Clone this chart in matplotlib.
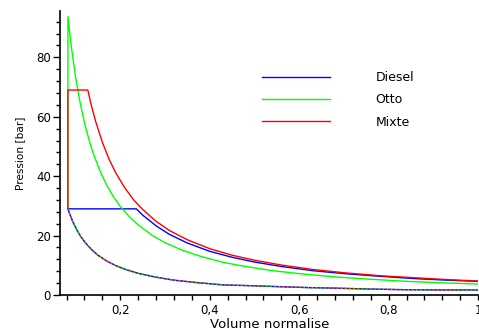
import matplotlib.pyplot as plt
from matplotlib.ticker import MultipleLocator, FuncFormatter

plt.rcParams['font.family'] = ['DejaVu Sans']

# compression commune aux trois cycles (volume normalise, pression en bar)
v_compression = [0.083, 0.088, 0.095, 0.103, 0.112, 0.122, 0.135, 0.15, 0.17, 0.19, 0.21, 0.24,
                 0.28, 0.32, 0.37, 0.43, 0.50, 0.556, 0.62, 0.683, 0.76, 0.832, 0.92, 1.0]
p_compression = [29.0, 26.9, 24.3, 21.9, 19.6, 17.6, 15.4, 13.4, 11.4, 9.9, 8.7, 7.3,
                 6.0, 5.0, 4.2, 3.4, 3.1, 2.8, 2.5, 2.3, 2.0, 1.8, 1.7, 1.7]

# Diesel : combustion isobare puis detente
v_diesel = [0.083, 0.236, 0.25, 0.28, 0.31, 0.35, 0.40, 0.45, 0.50, 0.56, 0.63, 0.70, 0.78, 0.86, 0.93, 1.0]
p_diesel = [29.0, 29.0, 26.9, 23.3, 20.4, 17.5, 14.7, 12.7, 11.1, 9.6, 8.2, 7.2, 6.3, 5.5, 5.0, 4.6]

# Otto : combustion isochore puis detente
v_otto = [0.083, 0.083, 0.09, 0.10, 0.11, 0.12, 0.13, 0.14, 0.155, 0.17, 0.185, 0.20, 0.22, 0.24, 0.27,
          0.30, 0.34, 0.38, 0.43, 0.48, 0.54, 0.60, 0.68, 0.76, 0.84, 0.92, 1.0]
p_otto = [29.0, 93.7, 84.3, 73.5, 64.9, 58.0, 52.3, 47.5, 41.6, 36.9, 33.0, 29.8, 26.4, 23.6, 20.2,
          17.6, 15.0, 13.0, 11.0, 9.6, 8.2, 7.2, 6.1, 5.3, 4.6, 4.1, 3.7]

# Mixte : isochore, isobare puis detente
v_mixte = [0.083, 0.083, 0.1275, 0.135, 0.145, 0.16, 0.175, 0.19, 0.21, 0.23, 0.25, 0.28, 0.31,
           0.35, 0.40, 0.45, 0.50, 0.56, 0.63, 0.70, 0.78, 0.86, 0.93, 1.0]
p_mixte = [29.0, 69.0, 69.0, 64.0, 58.4, 51.4, 45.7, 41.1, 36.1, 32.0, 28.8, 24.8, 21.7,
           18.6, 15.6, 13.4, 11.7, 10.1, 8.6, 7.5, 6.5, 5.8, 5.2, 4.7]

fig = plt.figure(figsize=(4.79, 3.32), dpi=100)
ax = fig.add_axes([0.1263, 0.1114, 0.8720, 0.8555])

ax.plot(v_diesel, p_diesel, color='#0000ff', lw=1.0, label='Diesel')
ax.plot(v_otto, p_otto, color='#00ff00', lw=1.0, label='Otto')
ax.plot(v_mixte, p_mixte, color='#ff0000', lw=1.0, label='Mixte')

# la compression est tracee pour chaque cycle, les traits se superposent
ax.plot(v_compression, p_compression, color='#0000ff', lw=1.0)
ax.plot(v_compression, p_compression, color='#00ff00', lw=1.0, ls=(0, (1, 2)))
ax.plot(v_compression, p_compression, color='#ff0000', lw=1.0, ls=(1, (1, 2)))

ax.set_xlim(0.0664, 1.0)
ax.set_ylim(0, 95.6)

for side in ['top', 'right']:
    ax.spines[side].set_visible(False)
for side in ['left', 'bottom']:
    ax.spines[side].set_linewidth(1.2)

ax.xaxis.set_major_locator(MultipleLocator(0.2))
ax.xaxis.set_minor_locator(MultipleLocator(0.04))
ax.yaxis.set_major_locator(MultipleLocator(20))
ax.yaxis.set_minor_locator(MultipleLocator(4))

virgule = FuncFormatter(lambda x, pos: ('%g' % round(x, 2)).replace('.', ','))
ax.xaxis.set_major_formatter(virgule)
ax.yaxis.set_major_formatter(virgule)

ax.tick_params(axis='x', which='both', length=3.5, width=1, labelsize=8.5, pad=3)
ax.tick_params(axis='y', which='major', length=5, width=1, labelsize=8.5, pad=2)
ax.tick_params(axis='y', which='minor', length=3, width=1)

ax.set_xlabel('Volume normalise', fontsize=9.5, labelpad=1)
ax.set_ylabel('Pression [bar]', fontsize=7.6, labelpad=8)

ax.legend(loc='upper left', bbox_to_anchor=(0.456, 0.828), frameon=False,
          fontsize=9, handlelength=5.4, handletextpad=3.65, labelspacing=0.75)

fig.savefig('out.png', dpi=100)
